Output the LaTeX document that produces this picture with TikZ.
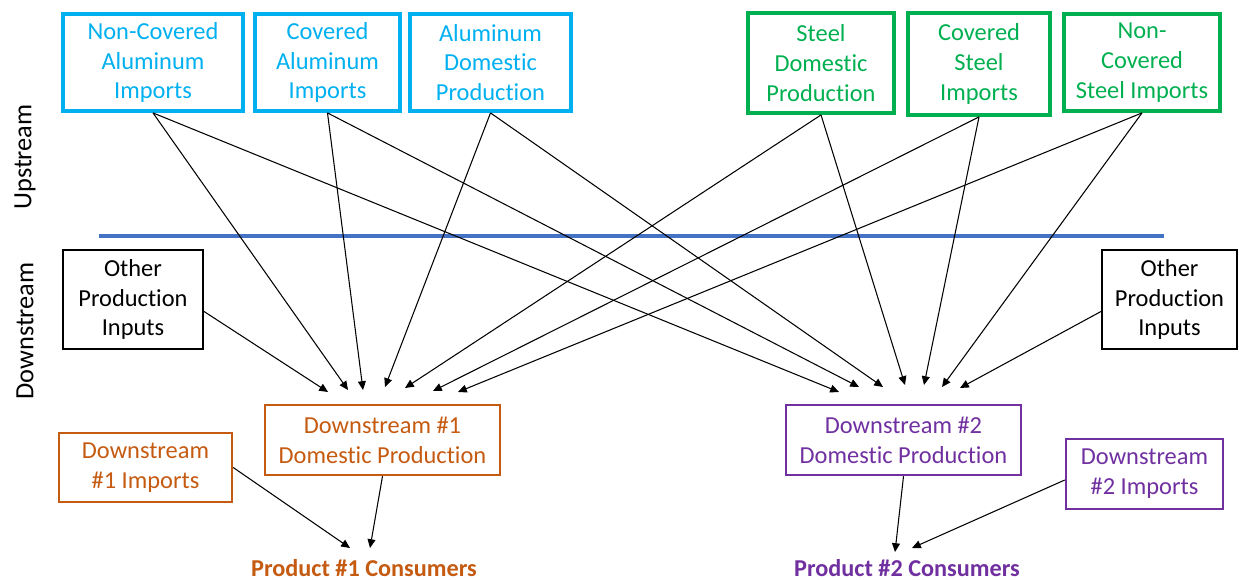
\documentclass[tikz,border=0pt]{standalone}
\usepackage{fontspec}
\setmainfont{Carlito}[Ligatures={NoCommon,NoContextual,NoRare}, RawFeature={-liga;-clig;-calt;-dlig}]
\usetikzlibrary{arrows.meta}
\definecolor{alblue}{HTML}{00B0F0}
\definecolor{stgreen}{HTML}{00B050}
\definecolor{dorange}{HTML}{C55A11}
\definecolor{dpurple}{HTML}{7030A0}
\definecolor{lineblue}{HTML}{4472C4}
\begin{document}
\begin{tikzpicture}[x=0.02cm,y=-0.02cm,
  box/.style={draw, align=center, inner sep=0pt, font=\fontsize{13.9}{17}\selectfont},
  albox/.style={box, draw=alblue, text=alblue, line width=2.2pt},
  stbox/.style={box, draw=stgreen, text=stgreen, line width=2.2pt},
  obox/.style={box, draw=black, text=black, line width=1.2pt},
  d1box/.style={box, draw=dorange, text=dorange, line width=1.4pt},
  d2box/.style={box, draw=dpurple, text=dpurple, line width=1.4pt},
  side/.style={rotate=90, font=\fontsize{15}{18}\selectfont},
  cons/.style={font=\fontsize{13.8}{17}\selectfont\bfseries, inner sep=0pt, anchor=base},
  flow/.style={-{Triangle[length=5pt,width=4.5pt]}, line width=0.6pt, black}]
\useasboundingbox (0,0) rectangle (1239,580);

% upstream boxes
\node[albox, minimum width=3.6cm, minimum height=1.94cm] (nca) at (153,62.5) {Non-Covered\\Aluminum\\Imports};
\node[albox, minimum width=2.9cm, minimum height=1.94cm] (ca) at (327.5,62.5) {Covered\\Aluminum\\Imports};
\node[albox, minimum width=3.22cm, minimum height=1.94cm] (ad) at (490.5,62.5) {Aluminum\\Domestic\\Production};
\node[stbox, minimum width=2.92cm, minimum height=2.0cm] (sd) at (821,63) {Steel\\Domestic\\Production};
\node[stbox, minimum width=2.84cm, minimum height=2.04cm] (cs) at (979,64) {Covered\\Steel\\Imports};
\node[stbox, minimum width=3.12cm, minimum height=1.94cm] (ncs) at (1142,62.5) {Non-\\Covered\\Steel Imports};

% side labels
\node[side] (uplab) at (25,157) {Upstream};
\node[side] (downlab) at (25,331) {Downstream};

% divider
\coordinate (divL) at (99,236);
\coordinate (divR) at (1164,236);
\draw[line width=2.3pt, lineblue] (divL) -- (divR);

% other inputs
\node[obox, minimum width=2.8cm, minimum height=1.98cm] (oL) at (133,299.5) {Other\\Production\\Inputs};
\node[obox, minimum width=2.7cm, minimum height=1.98cm] (oR) at (1169.5,299.5) {Other\\Production\\Inputs};

% downstream boxes
\node[d1box, minimum width=4.7cm, minimum height=1.4cm] (d1) at (382.5,440) {Downstream \#1\\Domestic Production};
\node[d1box, minimum width=3.46cm, minimum height=1.38cm] (d1i) at (145.5,467.5) {Downstream\\\#1 Imports};
\node[d2box, minimum width=4.7cm, minimum height=1.4cm] (d2) at (903.5,440) {Downstream \#2\\Domestic Production};
\node[d2box, minimum width=3.14cm, minimum height=1.4cm] (d2i) at (1144.5,474) {Downstream\\\#2 Imports};

% consumers
\node[cons, text=dorange] (p1) at (364,576) {Product \#1 Consumers};
\node[cons, text=dpurple] (p2) at (907,576) {Product \#2 Consumers};

% arrow end points
\coordinate (e1a) at (328,392);
\coordinate (e1b) at (348,390);
\coordinate (e1c) at (363,390);
\coordinate (e1d) at (385,387);
\coordinate (e1e) at (405,388);
\coordinate (e1f) at (433,391);
\coordinate (e1g) at (458,392);
\coordinate (e2a) at (839,392);
\coordinate (e2b) at (859,387);
\coordinate (e2c) at (883,387);
\coordinate (e2d) at (905,385);
\coordinate (e2e) at (924,385);
\coordinate (e2f) at (942,387);
\coordinate (e2g) at (960,388);
\coordinate (c1a) at (350,548);
\coordinate (c1b) at (370,548);
\coordinate (c2a) at (895,552);
\coordinate (c2b) at (912,548);

% into downstream #1
\draw[flow] ([yshift=-0.24cm]oL.east) -- (e1a);
\draw[flow] (nca.south) -- (e1b);
\draw[flow] (ca.south) -- (e1c);
\draw[flow] (ad.south) -- (e1d);
\draw[flow] (sd.south) -- (e1e);
\draw[flow] (cs.south) -- (e1f);
\draw[flow] (ncs.south) -- (e1g);

% into downstream #2
\draw[flow] (nca.south) -- (e2a);
\draw[flow] (ca.south) -- (e2b);
\draw[flow] (ad.south) -- (e2c);
\draw[flow] (sd.south) -- (e2d);
\draw[flow] (cs.south) -- (e2e);
\draw[flow] (ncs.south) -- (e2f);
\draw[flow] ([yshift=-0.24cm]oR.west) -- (e2g);

% to consumers
\draw[flow] (d1i.east) -- (c1a);
\draw[flow] (d1.south) -- (c1b);
\draw[flow] (d2.south) -- (c2a);
\draw[flow] ([yshift=-0.12cm]d2i.west) -- (c2b);
\end{tikzpicture}
\end{document}
